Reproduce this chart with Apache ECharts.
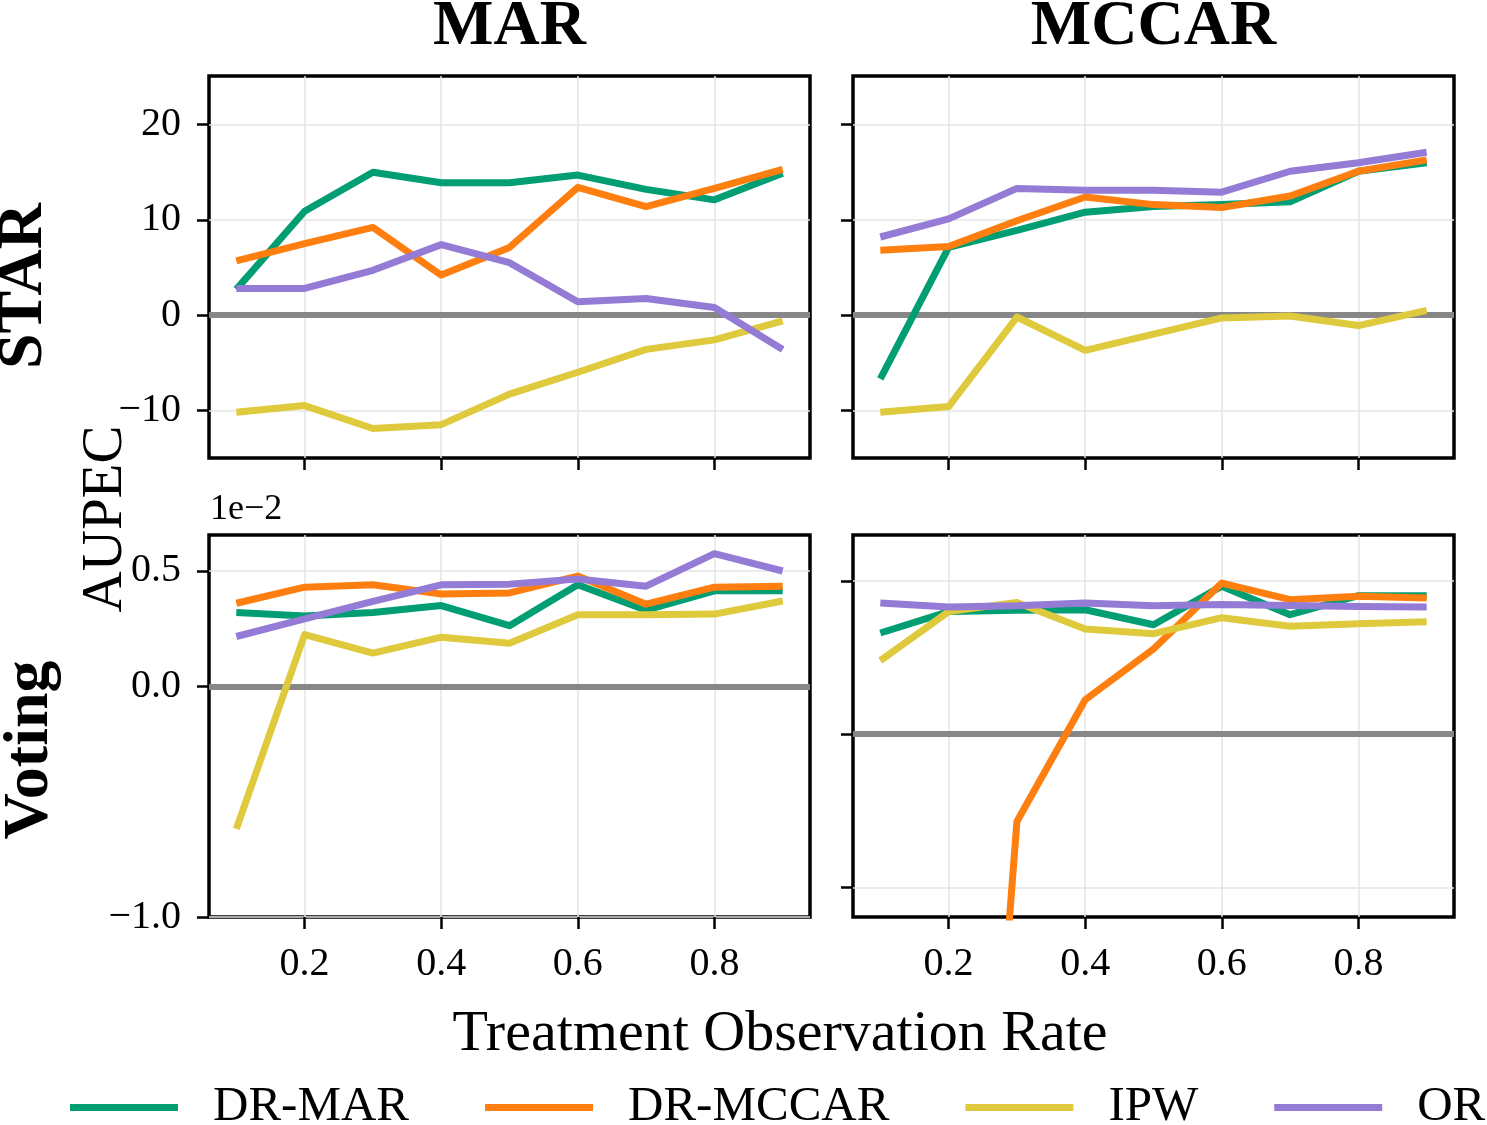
<!DOCTYPE html>
<html>
<head>
<meta charset="utf-8">
<script src="https://cdn.jsdelivr.net/npm/echarts@6/dist/echarts.min.js"></script>
<style>
  html, body { margin: 0; padding: 0; background: #fff; }
  #chart { width: 1487px; height: 1125px; }
</style>
</head>
<body>
<div id="chart"></div>
<script>
// x values (treatment observation rate)
const rates = [0.1, 0.2, 0.3, 0.4, 0.5, 0.6, 0.7, 0.8, 0.9]
const methods = ['DR-MAR', 'DR-MCCAR', 'IPW', 'OR']

// STAR, MAR
const starMarDrMar = [2.7, 10.9, 15.0, 13.9, 13.9, 14.7, 13.2, 12.1, 14.9]
const starMarDrMccar = [5.7, 7.5, 9.2, 4.2, 7.1, 13.4, 11.4, 13.3, 15.3]
const starMarIpw = [-10.2, -9.5, -11.9, -11.5, -8.3, -6.0, -3.6, -2.6, -0.6]
const starMarOr = [2.8, 2.8, 4.7, 7.4, 5.5, 1.4, 1.75, 0.8, -3.6]

// STAR, MCCAR
const starMccarDrMar = [-6.7, 7.1, 8.9, 10.8, 11.4, 11.6, 11.9, 15.1, 16.0]
const starMccarDrMccar = [6.8, 7.2, 9.9, 12.4, 11.6, 11.3, 12.5, 15.1, 16.3]
const starMccarIpw = [-10.2, -9.6, -0.2, -3.7, -2.0, -0.3, -0.1, -1.1, 0.5]
const starMccarOr = [8.2, 10.1, 13.3, 13.1, 13.1, 12.9, 15.1, 16.0, 17.1]

// Voting, MAR (x 1e-2)
const voteMarDrMar = [0.32, 0.305, 0.32, 0.35, 0.263, 0.44, 0.33, 0.414, 0.414]
const voteMarDrMccar = [0.36, 0.43, 0.44, 0.40, 0.405, 0.478, 0.356, 0.43, 0.434]
const voteMarIpw = [-0.618, 0.224, 0.144, 0.213, 0.187, 0.31, 0.31, 0.313, 0.37]
const voteMarOr = [0.216, 0.292, 0.368, 0.44, 0.443, 0.465, 0.434, 0.575, 0.50]

// Voting, MCCAR (x 1e-2)
const voteMccarDrMar = [0.33, 0.40, 0.404, 0.406, 0.357, 0.483, 0.39, 0.452, 0.452]
const voteMccarDrMccar = [-4.0, -3.2, -0.285, 0.112, 0.278, 0.493, 0.439, 0.45, 0.444]
const voteMccarIpw = [0.24, 0.40, 0.43, 0.343, 0.328, 0.38, 0.352, 0.36, 0.367]
const voteMccarOr = [0.428, 0.415, 0.419, 0.428, 0.419, 0.423, 0.42, 0.417, 0.415]

// tick values
const xTicks = [0.2, 0.4, 0.6, 0.8]
const starTicks = [-10, 0, 10, 20]
const voteMarTicks = [-1.0, 0.0, 0.5]
const voteMccarTicks = [-0.5, 0.0, 0.5]

const colors = ['#029e73', '#fe7f0f', '#dfc93c', '#937bd6']
const FONT = 'Liberation Serif'

const panels = [
  { data: [starMarDrMar, starMarDrMccar, starMarIpw, starMarOr], ticks: starTicks, min: -15, max: 25.1, left: 209, top: 76, yLabels: true, xLabels: false, digits: 0 },
  { data: [starMccarDrMar, starMccarDrMccar, starMccarIpw, starMccarOr], ticks: starTicks, min: -15, max: 25.1, left: 853, top: 76, yLabels: false, xLabels: false, digits: 0 },
  { data: [voteMarDrMar, voteMarDrMccar, voteMarIpw, voteMarOr], ticks: voteMarTicks, min: -1.0, max: 0.656, left: 209, top: 535, yLabels: true, xLabels: true, digits: 1 },
  { data: [voteMccarDrMar, voteMccarDrMccar, voteMccarIpw, voteMccarOr], ticks: voteMccarTicks, min: -0.597, max: 0.65, left: 853, top: 535, yLabels: false, xLabels: true, digits: 1 }
]

const tickStyle = { color: '#000', width: 2.5 }
const gridLine = { color: '#e4e4e4', width: 1.5 }
const minus = s => s.replace('-', '\u2212')

const grid = [], xAxis = [], yAxis = [], series = []
panels.forEach((p, i) => {
  grid.push({
    left: p.left, top: p.top, width: 601, height: 382,
    show: true, borderColor: '#000', borderWidth: 3.5, backgroundColor: 'transparent'
  })
  xAxis.push({
    type: 'value', gridIndex: i, min: 0.06, max: 0.94,
    axisLine: { show: false, onZero: false },
    axisTick: { show: true, length: 12, lineStyle: tickStyle, customValues: xTicks },
    axisLabel: {
      show: p.xLabels, customValues: xTicks, margin: 27,
      fontSize: 40, color: '#000', fontFamily: FONT,
      formatter: v => v.toFixed(1)
    },
    splitLine: { show: true, lineStyle: gridLine }
  })
  yAxis.push({
    type: 'value', gridIndex: i, min: p.min, max: p.max,
    axisLine: { show: false, onZero: false },
    axisTick: { show: true, length: 12, lineStyle: tickStyle, customValues: p.ticks },
    axisLabel: {
      show: p.yLabels, customValues: p.ticks, margin: 28,
      fontSize: 40, color: '#000', fontFamily: FONT,
      formatter: v => minus(v.toFixed(p.digits))
    },
    splitLine: { show: true, lineStyle: gridLine }
  })
  methods.forEach((m, k) => {
    const s = {
      name: m, type: 'line', xAxisIndex: i, yAxisIndex: i,
      data: rates.map((r, j) => [r, p.data[k][j]]),
      symbol: 'none', color: colors[k],
      lineStyle: { width: 7, color: colors[k], join: 'round' },
      emphasis: { disabled: true }
    }
    if (k === 0) {
      // 零线
      s.markLine = {
        silent: true, symbol: 'none', z: 1,
        label: { show: false },
        lineStyle: { color: '#878787', width: 6, type: 'solid' },
        emphasis: { disabled: true },
        data: [{ yAxis: 0 }]
      }
    }
    series.push(s)
  })
})

const txt = (x, y, text, size, weight, rot) => ({
  type: 'text', x: x, y: y, rotation: rot || 0, silent: true,
  style: {
    text: text, fill: '#000', font: (weight || 'normal') + ' ' + size + 'px "' + FONT + '"',
    textAlign: 'center', textVerticalAlign: 'middle'
  }
})

const myChart = echarts.init(document.getElementById('chart'))
myChart.setOption({
  animation: false,
  backgroundColor: '#fff',
  grid, xAxis, yAxis, series,
  legend: {
    data: methods, left: 70, top: 1083, padding: 0,
    icon: 'rect', itemWidth: 108, itemHeight: 7, itemGap: 76,
    textStyle: { fontSize: 49, color: '#000', fontFamily: FONT, padding: [0, 0, 0, 30] }
  },
  graphic: [
    txt(509.5, 27, 'MAR', 64, 'bold'),
    txt(1153.5, 27, 'MCCAR', 64, 'bold'),
    txt(24, 286, 'STAR', 64, 'bold', Math.PI / 2),
    txt(30, 750, 'Voting', 64, 'bold', Math.PI / 2),
    txt(106, 519, 'AUPEC', 57, 'normal', Math.PI / 2),
    txt(780, 1035, 'Treatment Observation Rate', 58, 'normal'),
    {
      type: 'text', x: 210, y: 510, silent: true,
      style: { text: '1e\u22122', fill: '#000', font: '36px "' + FONT + '"', textAlign: 'left', textVerticalAlign: 'middle' }
    }
  ]
})
</script>
</body>
</html>
